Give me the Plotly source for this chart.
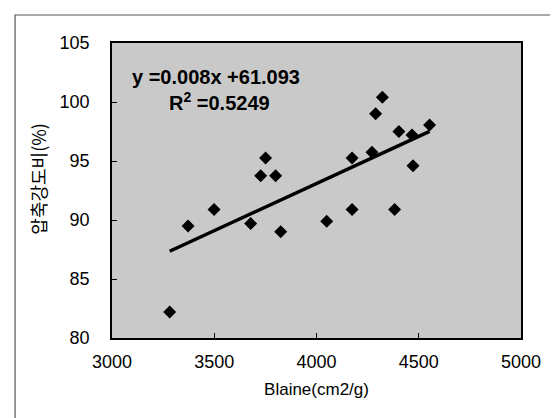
import plotly.graph_objects as go

# Data
blaine = [3282, 3372, 3499, 3678, 3727, 3751, 3800, 3825, 4050, 4174,
          4174, 4271, 4289, 4322, 4382, 4403, 4467, 4472, 4553]
ratio = [82.2, 89.5, 90.9, 89.7, 93.75, 95.25, 93.75, 89.0, 89.9, 90.9,
         95.25, 95.75, 99.0, 100.4, 90.9, 97.5, 97.2, 94.6, 98.05]

slope = 0.008
intercept = 61.093
r_squared = 0.5249

x_ticks = [3000, 3500, 4000, 4500, 5000]
y_ticks = [80, 85, 90, 95, 100, 105]

y_title = "압축강도비(%)"
x_title = "Blaine(cm2/g)"

trend_x = [min(blaine), max(blaine)]
trend_y = [slope * v + intercept for v in trend_x]

FONT = "Liberation Sans, Arial, sans-serif"

fig = go.Figure()
fig.add_trace(go.Scatter(
    x=blaine, y=ratio, mode="markers",
    marker=dict(symbol="diamond", size=10, color="black", line=dict(width=0)),
    showlegend=False, hoverinfo="x+y"))
fig.add_trace(go.Scatter(
    x=trend_x, y=trend_y, mode="lines",
    line=dict(color="black", width=3.5),
    showlegend=False, hoverinfo="skip"))

fig.add_annotation(
    xref="paper", yref="paper", x=0.045, y=0.885, xanchor="left", yanchor="middle",
    text=f"<b>y ={slope}x +{intercept}</b>", showarrow=False,
    font=dict(family=FONT, size=20, color="black"))
fig.add_annotation(
    xref="paper", yref="paper", x=0.135, y=0.80, xanchor="left", yanchor="middle",
    text=f"<b>R<sup>2</sup> ={r_squared}</b>", showarrow=False,
    font=dict(family=FONT, size=20, color="black"))

# Y-axis title placed as rotated text (slightly above centre, as in the reference)
fig.add_annotation(
    xref="paper", yref="paper", x=-0.181, y=0.54, xanchor="center", yanchor="middle",
    text=y_title, textangle=-90, showarrow=False,
    font=dict(family="Noto Sans CJK KR, " + FONT, size=18, color="black"))

# Outer chart frame
fig.add_shape(type="rect", xref="paper", yref="paper",
              x0=-0.237, x1=1.2, y0=-0.4, y1=1.095,
              line=dict(color="#555555", width=1.2), fillcolor="rgba(0,0,0,0)",
              layer="below")

fig.update_layout(
    width=558, height=418,
    margin=dict(l=104, r=45, t=35, b=88),
    paper_bgcolor="white", plot_bgcolor="#c9c9c9",
    font=dict(family=FONT, size=18, color="black"),
    xaxis=dict(range=[3000, 5000], tickvals=x_ticks, ticks="inside", ticklen=5,
               tickcolor="black", showline=True, linecolor="black", linewidth=1.5,
               mirror=True, showgrid=False, zeroline=False,
               ticklabelstandoff=7,
               title=dict(text=x_title, font=dict(size=17), standoff=12)),
    yaxis=dict(range=[80, 105], tickvals=y_ticks, ticks="inside", ticklen=5,
               tickcolor="black", showline=True, linecolor="black", linewidth=1.5,
               mirror=True, showgrid=False, zeroline=False,
               ticklabelstandoff=17),
)

fig.write_html("out.html")
